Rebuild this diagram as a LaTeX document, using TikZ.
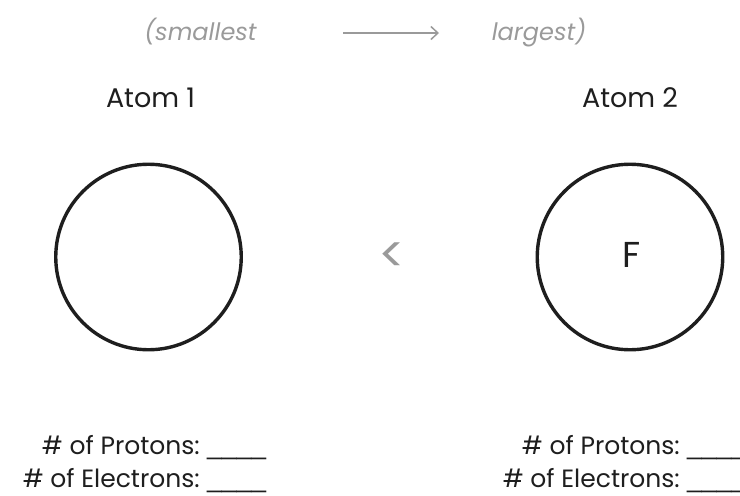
\documentclass[tikz,border=0pt]{standalone}
\usepackage{fontspec}
\setmainfont{Poppins}
\newfontfamily\blankfont{Liberation Sans}
\usetikzlibrary{arrows.meta}
\definecolor{hdr}{HTML}{9A9A9A}
\definecolor{ink}{HTML}{1E1E1E}
\begin{document}
\begin{tikzpicture}[x=1pt,y=-1pt,
  hdrtext/.style={text=hdr,font=\fontsize{24}{28}\selectfont\itshape,anchor=base,inner sep=0pt},
  label/.style={text=ink,font=\fontsize{27}{30}\selectfont,anchor=base,inner sep=0pt},
  atom/.style={circle,draw=ink,line width=3.4pt,minimum size=185.5pt,inner sep=0pt},
  info/.style={text=ink,font=\fontsize{25}{30}\selectfont,anchor=base east,inner sep=0pt},
  blank/.style={text=ink,font=\blankfont\fontsize{26.5}{30}\selectfont,anchor=base west,inner sep=0pt}]
\useasboundingbox (0,0) rectangle (740,496);
\node[hdrtext] (small) at (200.5,40) {(smallest};
\node[hdrtext] (large) at (539,40) {largest)};
\coordinate (a0) at (343,33);
\coordinate (a1) at (439,33);
\draw[hdr,line width=1.5pt,-{Straight Barb[length=7pt,width=13pt,line width=1.5pt]}] (a0) -- (a1);
\node[label] (t1) at (150.5,107) {Atom 1};
\node[label] (t2) at (630,107) {Atom 2};
\node[atom] (c1) at (148.5,257) {};
\node[atom] (c2) at (630,257) {};
\node[text=ink,font=\fontsize{36}{40}\selectfont,anchor=base,inner sep=0pt] (f) at (632,267) {F};
\node[text=hdr,font=\fontsize{50}{54}\selectfont,inner sep=0pt] (lt) at (392,258) {<};
\node[info] (p1) at (200,454) {\# of Protons:};
\node[blank] (bp1) at (207,454) {\_\_\_\_};
\node[info] (e1) at (200,487) {\# of Electrons:};
\node[blank] (be1) at (207,487) {\_\_\_\_};
\node[info] (p2) at (680,454) {\# of Protons:};
\node[blank] (bp2) at (687,454) {\_\_\_\_};
\node[info] (e2) at (680,487) {\# of Electrons:};
\node[blank] (be2) at (687,487) {\_\_\_\_};
\end{tikzpicture}
\end{document}
